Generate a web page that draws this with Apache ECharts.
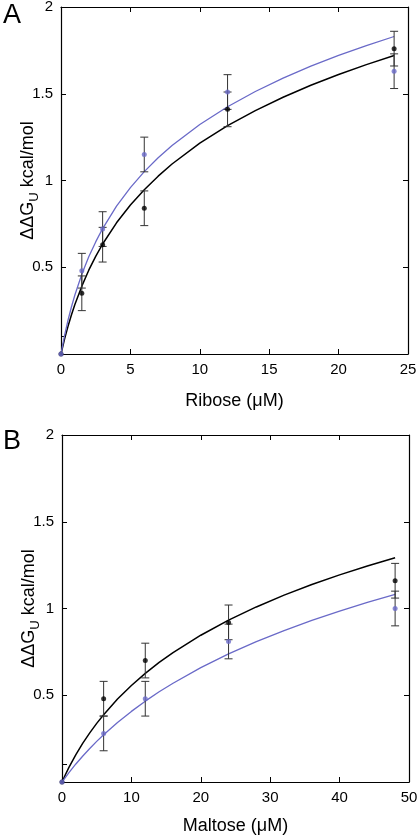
<!DOCTYPE html>
<html><head><meta charset="utf-8">
<script src="https://cdn.jsdelivr.net/npm/echarts@6/dist/echarts.min.js"></script>
<style>html,body{margin:0;padding:0;background:#fff}#c{width:420px;height:840px}</style>
</head><body><div id="c"></div>
<script>
// Panel A: Ribose
const riboseX = [0, 1.5, 3, 6, 12, 24];
const riboseBlack = [0, 0.35, 0.63, 0.84, 1.41, 1.76];
const riboseBlackErr = [0, 0.1, 0.1, 0.1, 0.1, 0.1];
const riboseBlue = [0, 0.48, 0.72, 1.15, 1.51, 1.63];
const riboseBlueErr = [0, 0.1, 0.1, 0.1, 0.1, 0.1];
const riboseCurveX = [0, 0.25, 0.5, 0.75, 1, 1.5, 2, 2.5, 3, 4, 5, 6, 7, 8, 10, 12, 14, 16, 18, 20, 22, 24];
const riboseCurveBlack = [0, 0.084, 0.158, 0.225, 0.285, 0.391, 0.483, 0.563, 0.634, 0.756, 0.859, 0.947, 1.025, 1.095, 1.215, 1.316, 1.403, 1.48, 1.549, 1.611, 1.668, 1.72];
const riboseCurveBlue = [0, 0.104, 0.193, 0.271, 0.34, 0.46, 0.56, 0.646, 0.723, 0.852, 0.959, 1.051, 1.131, 1.202, 1.323, 1.425, 1.513, 1.59, 1.659, 1.721, 1.777, 1.83];
// Panel B: Maltose
const maltoseX = [0, 6, 12, 24, 48];
const maltoseBlack = [0, 0.48, 0.70, 0.92, 1.16];
const maltoseBlackErr = [0, 0.1, 0.1, 0.1, 0.1];
const maltoseBlue = [0, 0.28, 0.48, 0.81, 1.00];
const maltoseBlueErr = [0, 0.1, 0.1, 0.1, 0.1];
const maltoseCurveX = [0, 0.5, 1, 2, 3, 4, 5, 6, 8, 10, 12, 14, 16, 20, 24, 28, 32, 36, 40, 44, 48];
const maltoseCurveBlack = [0, 0.043, 0.084, 0.158, 0.224, 0.283, 0.338, 0.388, 0.478, 0.556, 0.626, 0.689, 0.746, 0.846, 0.933, 1.009, 1.077, 1.138, 1.194, 1.245, 1.292];
const maltoseCurveBlue = [0, 0.027, 0.054, 0.104, 0.15, 0.193, 0.234, 0.272, 0.343, 0.407, 0.466, 0.52, 0.569, 0.659, 0.738, 0.809, 0.873, 0.932, 0.985, 1.035, 1.081];
const yTicks = [0.5, 1, 1.5, 2];
const riboseTicks = [0, 5, 10, 15, 20, 25];
const maltoseTicks = [0, 10, 20, 30, 40, 50];

const BLUE = '#6a6ac8';
const FONT = 'Liberation Sans';
const zip = (xs, ys) => xs.map((x, i) => [x, ys[i]]);
const zipErr = (xs, ys, es) => xs.map((x, i) => [x, ys[i] - es[i], ys[i] + es[i]]).filter((d, i) => es[i] > 0);

function errSeries(data, gi) {
  return {
    type: 'custom', xAxisIndex: gi * 2, yAxisIndex: gi * 2, data: data, z: 3, silent: true,
    renderItem: function (params, api) {
      const x = api.value(0);
      const lo = api.coord([x, api.value(1)]);
      const hi = api.coord([x, api.value(2)]);
      const w = 4;
      const st = { stroke: '#333', lineWidth: 1 };
      return { type: 'group', children: [
        { type: 'line', shape: { x1: lo[0], y1: lo[1], x2: hi[0], y2: hi[1] }, style: st },
        { type: 'line', shape: { x1: lo[0] - w, y1: lo[1], x2: lo[0] + w, y2: lo[1] }, style: st },
        { type: 'line', shape: { x1: hi[0] - w, y1: hi[1], x2: hi[0] + w, y2: hi[1] }, style: st }
      ]};
    }
  };
}
function lineSeries(data, gi, color, w) {
  return { type: 'line', xAxisIndex: gi * 2, yAxisIndex: gi * 2, data: data, smooth: false,
    showSymbol: false, lineStyle: { color: color, width: w, join: 'round' }, z: 2, silent: true };
}
function dotSeries(data, gi, color) {
  return { type: 'scatter', xAxisIndex: gi * 2, yAxisIndex: gi * 2, data: data, symbolSize: 5,
    itemStyle: { color: color }, z: 5, silent: true };
}

const grids = [
  { left: 61, top: 7, width: 347, height: 347, containLabel: false, outerBoundsMode: 'none' },
  { left: 62, top: 435, width: 347, height: 347, containLabel: false, outerBoundsMode: 'none' }
];
const lineAx = { onZero: false, lineStyle: { color: '#000', width: 1.2 } };
const tickAx = { inside: true, length: 5, lineStyle: { color: '#000' } };
function xAxes(gi, max, interval, name, gap, ticks) {
  return [
    { type: 'value', gridIndex: gi, min: 0, max: max, interval: interval, position: 'bottom',
      axisLine: lineAx, axisTick: tickAx, splitLine: { show: false },
      axisLabel: { customValues: ticks, color: '#000', fontSize: 15, fontFamily: FONT, margin: 8 },
      name: name, nameLocation: 'middle', nameGap: gap, nameMoveOverlap: false,
      nameTextStyle: { color: '#000', fontSize: 18, fontFamily: FONT } },
    { type: 'value', gridIndex: gi, min: 0, max: max, interval: interval, position: 'top',
      axisLine: lineAx, axisTick: tickAx,
      axisLabel: { show: false }, splitLine: { show: false } }
  ];
}
function yAxes(gi) {
  return [
    { type: 'value', gridIndex: gi, min: 0, max: 2, interval: 0.5, position: 'left',
      axisLine: lineAx,
      axisTick: { inside: true, length: 5, customValues: [0.1, 0.5, 1, 1.5, 2], lineStyle: { color: '#000' } },
      splitLine: { show: false },
      axisLabel: { customValues: yTicks, color: '#000', fontSize: 15, fontFamily: FONT, margin: 8 },
      name: '{a|ΔΔG}{s|U}{a| kcal/mol}', nameLocation: 'middle', nameGap: 20, nameMoveOverlap: false,
      nameTextStyle: { rich: {
        a: { fontSize: 18, fontFamily: FONT, color: '#000', lineHeight: 22, verticalAlign: 'top' },
        s: { fontSize: 13, fontFamily: FONT, color: '#000', lineHeight: 22, verticalAlign: 'bottom', padding: [9, 0, 0, 0] }
      } } },
    { type: 'value', gridIndex: gi, min: 0, max: 2, interval: 0.5, position: 'right',
      axisLine: lineAx, axisTick: tickAx,
      axisLabel: { show: false }, splitLine: { show: false } }
  ];
}

const option = {
  animation: false,
  backgroundColor: '#fff',
  grid: grids,
  xAxis: [].concat(xAxes(0, 25, 5, 'Ribose (μM)', 38, riboseTicks), xAxes(1, 50, 10, 'Maltose (μM)', 35, maltoseTicks)),
  yAxis: [].concat(yAxes(0), yAxes(1)),
  graphic: [
    { type: 'text', left: 3, top: 2, style: { text: 'A', fontSize: 27, fontFamily: FONT, fill: '#000' } },
    { type: 'text', left: 3, top: 428, style: { text: 'B', fontSize: 27, fontFamily: FONT, fill: '#000' } }
  ],
  series: [
    lineSeries(zip(riboseCurveX, riboseCurveBlack), 0, '#000', 1.5),
    lineSeries(zip(riboseCurveX, riboseCurveBlue), 0, BLUE, 1.3),
    errSeries(zipErr(riboseX, riboseBlack, riboseBlackErr), 0),
    errSeries(zipErr(riboseX, riboseBlue, riboseBlueErr), 0),
    dotSeries(zip(riboseX, riboseBlack), 0, '#000'),
    dotSeries(zip(riboseX, riboseBlue), 0, BLUE),
    lineSeries(zip(maltoseCurveX, maltoseCurveBlack), 1, '#000', 1.5),
    lineSeries(zip(maltoseCurveX, maltoseCurveBlue), 1, BLUE, 1.3),
    errSeries(zipErr(maltoseX, maltoseBlack, maltoseBlackErr), 1),
    errSeries(zipErr(maltoseX, maltoseBlue, maltoseBlueErr), 1),
    dotSeries(zip(maltoseX, maltoseBlack), 1, '#000'),
    dotSeries(zip(maltoseX, maltoseBlue), 1, BLUE)
  ]
};
const chart = echarts.init(document.getElementById('c'), null, { renderer: 'canvas' });
chart.setOption(option);
</script>
</body></html>
